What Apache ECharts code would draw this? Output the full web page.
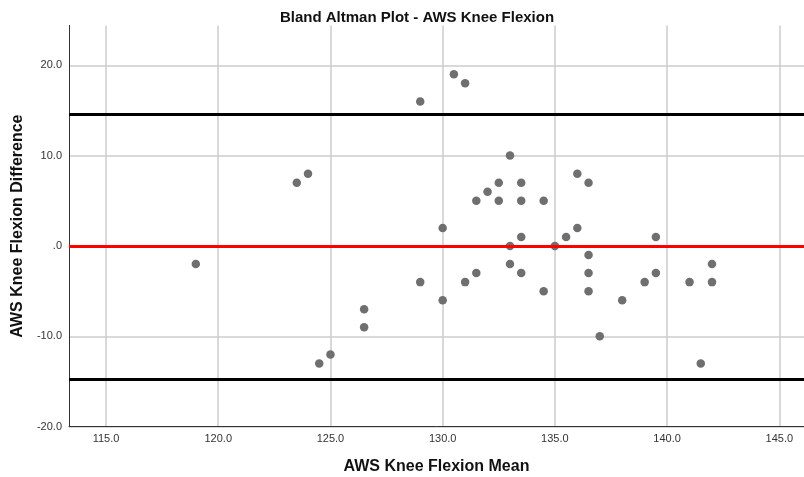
<!DOCTYPE html>
<html>
<head>
<meta charset="utf-8">
<title>Bland Altman Plot - AWS Knee Flexion</title>
<script src="https://cdn.jsdelivr.net/npm/echarts@6/dist/echarts.min.js"></script>
<style>
  html, body { margin: 0; padding: 0; background: #fff; }
  #chart { width: 804px; height: 477px; }
</style>
</head>
<body>
<div id="chart"></div>
<script>
// mean of the two measurements (x) and their difference (y), one entry per subject
var kneeMean = [119, 123.5, 124, 124.5, 125, 126.5, 126.5, 129, 129, 130,
  130, 130.5, 131, 131, 131.5, 131.5, 132, 132.5, 132.5, 133,
  133, 133, 133.5, 133.5, 133.5, 133.5, 134.5, 134.5, 135, 135.5,
  136, 136, 136.5, 136.5, 136.5, 136.5, 137, 138, 139, 139.5,
  139.5, 141, 141.5, 142, 142];
var kneeDiff = [-2, 7, 8, -13, -12, -7, -9, 16, -4, 2,
  -6, 19, 18, -4, 5, -3, 6, 7, 5, 10,
  0, -2, 7, 5, 1, -3, 5, -5, 0, 1,
  8, 2, 7, -1, -3, -5, -10, -6, -4, 1,
  -3, -4, -13, -2, -4];

// mean difference and limits of agreement
var meanDiff = 0;
var upperLimit = 14.6;
var lowerLimit = -14.7;

var xTicks = [115, 120, 125, 130, 135, 140, 145];
var yTicks = [-20, -10, 0, 10, 20];

var points = [];
for (var i = 0; i < kneeMean.length; i++) {
  points.push([kneeMean[i], kneeDiff[i]]);
}

var chart = echarts.init(document.getElementById('chart'));

var boldFont = '"Liberation Sans Narrow", "Arial Narrow", "Liberation Sans", Arial, sans-serif';
var tickFont = '"Liberation Sans", Arial, sans-serif';

var option = {
  animation: false,
  backgroundColor: '#ffffff',
  title: {
    text: 'Bland Altman Plot - AWS Knee Flexion',
    left: 412,
    top: 5,
    textAlign: 'center',
    textStyle: {
      fontFamily: boldFont,
      fontWeight: 'bold',
      fontSize: 15,
      color: '#111'
    }
  },
  grid: {
    left: 69,
    top: 25.5,
    right: 0,
    bottom: 50.3,
    outerBoundsMode: 'none',
    containLabel: false
  },
  xAxis: {
    type: 'value',
    min: 113.35,
    max: 146.1,
    name: 'AWS Knee Flexion Mean',
    nameLocation: 'middle',
    nameGap: 32,
    nameTextStyle: {
      fontFamily: boldFont,
      fontWeight: 'bold',
      fontSize: 16,
      color: '#111'
    },
    axisLine: { show: true, onZero: false, lineStyle: { color: '#333', width: 1 } },
    axisTick: { show: false, customValues: xTicks },
    axisLabel: {
      customValues: xTicks,
      margin: 7,
      fontFamily: tickFont,
      fontSize: 11,
      color: '#333',
      formatter: function (v) { return v.toFixed(1); }
    },
    splitLine: { show: true, lineStyle: { color: '#cdcdcd', width: 1.5 } }
  },
  yAxis: {
    type: 'value',
    min: -20,
    max: 24.4,
    name: 'AWS Knee Flexion Difference',
    nameLocation: 'middle',
    nameGap: 42,
    nameTextStyle: {
      fontFamily: boldFont,
      fontWeight: 'bold',
      fontSize: 16,
      color: '#111'
    },
    axisLine: { show: true, onZero: false, lineStyle: { color: '#333', width: 1 } },
    axisTick: { show: false, customValues: yTicks },
    axisLabel: {
      customValues: yTicks,
      margin: 7,
      fontFamily: tickFont,
      fontSize: 11,
      color: '#333',
      formatter: function (v) { return v === 0 ? '.0' : v.toFixed(1); }
    },
    splitLine: { show: true, lineStyle: { color: '#cdcdcd', width: 1.5 } }
  },
  series: [
    {
      // holds the reference lines so they sit under the dots
      type: 'scatter',
      data: [],
      z: 1,
      markLine: {
        silent: true,
        symbol: 'none',
        label: { show: false },
        data: [
          { yAxis: upperLimit, lineStyle: { color: '#000', width: 3, type: 'solid' } },
          { yAxis: meanDiff, lineStyle: { color: '#ff0000', width: 3, type: 'solid' } },
          { yAxis: lowerLimit, lineStyle: { color: '#000', width: 3, type: 'solid' } }
        ]
      }
    },
    {
      type: 'scatter',
      z: 3,
      data: points,
      symbol: 'circle',
      symbolSize: 8.5,
      itemStyle: { color: '#6f6f6f', opacity: 1 }
    }
  ]
};

chart.setOption(option);
</script>
</body>
</html>
